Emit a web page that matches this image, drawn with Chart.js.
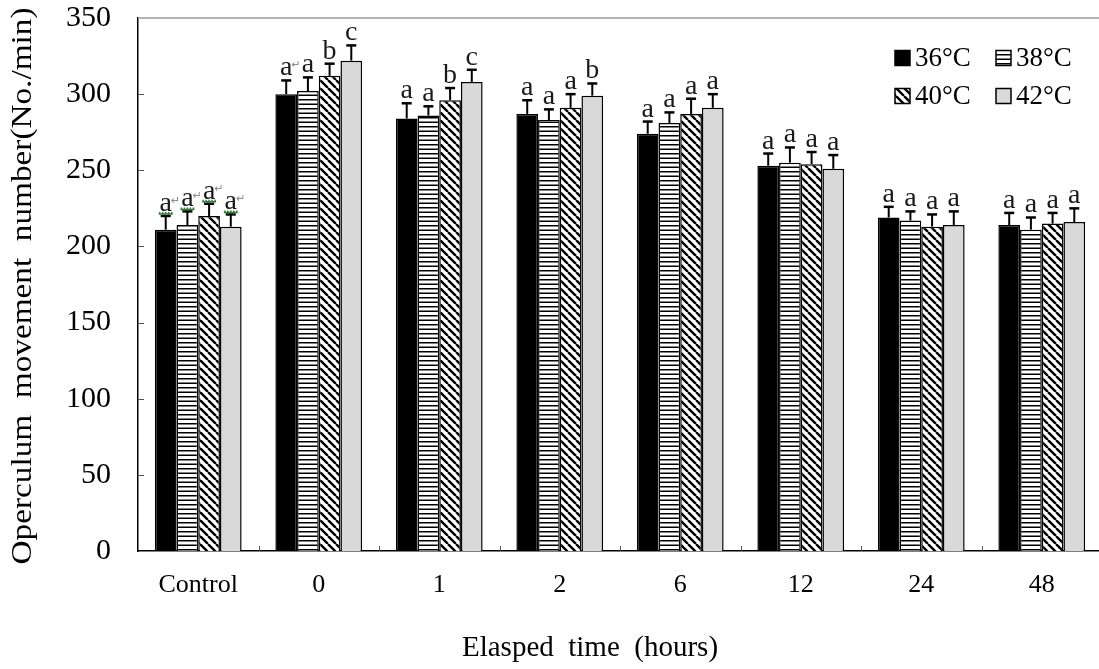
<!DOCTYPE html>
<html>
<head>
<meta charset="utf-8">
<script src="https://cdn.jsdelivr.net/npm/chart.js@4.4.1/dist/chart.umd.min.js"></script>
<style>
  html, body { margin: 0; padding: 0; background: #fff; overflow: hidden; width: 1099px; height: 669px; }
  canvas { display: block; }
</style>
</head>
<body>
<canvas id="chart" width="1103" height="669" style="width:1103px;height:669px"></canvas>
<script>
// groups on the x axis and the four temperature series
const categories = ['Control', '0', '1', '2', '6', '12', '24', '48'];
const seriesLabels = ['36\u00B0C', '38\u00B0C', '40\u00B0C', '42\u00B0C'];

const mean36 = [211, 300, 284, 287, 274, 253, 219, 214];
const mean38 = [214, 302, 286, 283, 281, 255, 217, 211];
const mean40 = [220, 312, 296, 291, 287, 254, 213, 215];
const mean42 = [213, 322, 308, 299, 291, 251, 214, 216];

const err36 = [9, 9, 10, 9, 8, 8, 7, 8];
const err38 = [9, 9, 6, 7, 7, 10, 6, 8];
const err40 = [8, 8, 8, 9, 10, 8, 8, 7];
const err42 = [8, 10, 8, 8, 9, 9, 9, 9];

const letters36 = ['a', 'a', 'a', 'a', 'a', 'a', 'a', 'a'];
const letters38 = ['a', 'a', 'a', 'a', 'a', 'a', 'a', 'a'];
const letters40 = ['a', 'b', 'b', 'a', 'a', 'a', 'a', 'a'];
const letters42 = ['a', 'c', 'c', 'b', 'a', 'a', 'a', 'a'];

const yTicks = [0, 50, 100, 150, 200, 250, 300, 350];

const xTitle = 'Elasped  time  (hours)';
const yTitle = 'Operculum  movement  number(No./min)';

const serif = '"Liberation Serif", "Times New Roman", serif';

// fill patterns
function stripesH() {
    const c = document.createElement('canvas');
    c.width = 8; c.height = 9;
    const g = c.getContext('2d');
    g.fillStyle = '#fff'; g.fillRect(0, 0, 8, 9);
    g.fillStyle = '#000';
    g.fillRect(0, 0, 8, 1.5);
    g.fillRect(0, 4.5, 8, 1.5);
    return g.createPattern(c, 'repeat');
}
function stripesDiag() {
    const s = 8;
    const c = document.createElement('canvas');
    c.width = s; c.height = s;
    const g = c.getContext('2d');
    g.fillStyle = '#fff'; g.fillRect(0, 0, s, s);
    g.strokeStyle = '#000'; g.lineWidth = 2.4;
    g.beginPath();
    [-s, 0, s].forEach(k => { g.moveTo(k, 0); g.lineTo(k + s, s); });
    g.stroke();
    return g.createPattern(c, 'repeat');
}

const fills = ['#000', stripesH(), stripesDiag(), '#d9d9d9'];
const means = [mean36, mean38, mean40, mean42];
const errs = [err36, err38, err40, err42];
const letters = [letters36, letters38, letters40, letters42];

const decor = {
    id: 'decor',
    afterDatasetsDraw(chart) {
        const ctx = chart.ctx;
        const y = chart.scales.y;
        ctx.save();
        chart.data.datasets.forEach((ds, i) => {
            const meta = chart.getDatasetMeta(i);
            meta.data.forEach((bar, j) => {
                const top = y.getPixelForValue(means[i][j] + errs[i][j]);
                // whisker (upper only)
                ctx.strokeStyle = '#000';
                ctx.lineWidth = 2;
                ctx.beginPath();
                ctx.moveTo(bar.x, bar.y);
                ctx.lineTo(bar.x, top);
                ctx.stroke();
                ctx.lineWidth = 2.5;
                ctx.beginPath();
                ctx.moveTo(bar.x - 5, top);
                ctx.lineTo(bar.x + 5, top);
                ctx.stroke();
                // significance letter
                ctx.fillStyle = '#1a1a1a';
                ctx.font = '28px ' + serif;
                ctx.textAlign = 'center';
                ctx.textBaseline = 'alphabetic';
                ctx.fillText(letters[i][j], bar.x, top - 5);
                // leftover editing marks in the original figure
                if (j === 0 || (j === 1 && i === 0)) {
                    ctx.fillStyle = '#8a8a8a';
                    ctx.font = '11px "DejaVu Sans"';
                    ctx.fillText('\u21B5', bar.x + 10, top - 12);
                }
                if (j === 0) {
                    ctx.strokeStyle = '#2e7d32';
                    ctx.lineWidth = 1.5;
                    ctx.beginPath();
                    ctx.moveTo(bar.x - 7, top - 2);
                    ctx.lineTo(bar.x + 7, top - 2);
                    for (let k = -6; k <= 6; k += 3) {
                        ctx.moveTo(bar.x + k, top - 2);
                        ctx.lineTo(bar.x + k, top - 4);
                    }
                    ctx.stroke();
                }
            });
        });
        ctx.restore();
    },
    afterDraw(chart) {
        const ctx = chart.ctx;
        const a = chart.chartArea;
        const x = chart.scales.x;
        const y = chart.scales.y;
        ctx.save();
        // frame top / right
        ctx.strokeStyle = '#9a9a9a';
        ctx.lineWidth = 1.5;
        ctx.beginPath();
        ctx.moveTo(a.left, a.top);
        ctx.lineTo(a.right, a.top);
        ctx.lineTo(a.right, a.bottom);
        ctx.stroke();
        // inside tick marks
        ctx.strokeStyle = '#555';
        ctx.lineWidth = 1;
        ctx.beginPath();
        yTicks.slice(1, -1).forEach(v => {
            const py = Math.round(y.getPixelForValue(v)) + 0.5;
            ctx.moveTo(a.left, py);
            ctx.lineTo(a.left + 6, py);
        });
        for (let i = 0; i < categories.length - 1; i++) {
            const px = Math.round((x.getPixelForValue(i) + x.getPixelForValue(i + 1)) / 2) + 0.5;
            ctx.moveTo(px, a.bottom);
            ctx.lineTo(px, a.bottom - 5);
        }
        ctx.stroke();
        // legend, 2 x 2
        const lx = [a.left + 757, a.left + 858];
        const ly = [a.top + 40, a.top + 78];
        ctx.font = '27px ' + serif;
        ctx.textAlign = 'left';
        ctx.textBaseline = 'middle';
        seriesLabels.forEach((lab, i) => {
            const bx = lx[i % 2], by = ly[Math.floor(i / 2)];
            ctx.fillStyle = fills[i];
            ctx.fillRect(bx, by - 7.5, 15, 15);
            ctx.strokeStyle = '#000';
            ctx.lineWidth = 1.5;
            ctx.strokeRect(bx, by - 7.5, 15, 15);
            ctx.fillStyle = '#000';
            ctx.fillText(lab, bx + 20, by + 1);
        });
        // axis titles
        ctx.fillStyle = '#000';
        ctx.textAlign = 'center';
        ctx.textBaseline = 'middle';
        ctx.font = '29px ' + serif;
        ctx.fillText(xTitle, 590, 648);
        ctx.font = '29px ' + serif;
        const w = ctx.measureText(yTitle).width;
        ctx.translate(23, 286);
        ctx.rotate(-Math.PI / 2);
        ctx.scale(557 / w, 1);
        ctx.fillText(yTitle, 0, 0);
        ctx.restore();
    }
};

new Chart(document.getElementById('chart'), {
    type: 'bar',
    data: {
        labels: categories,
        datasets: seriesLabels.map((lab, i) => ({
            label: lab,
            data: means[i],
            backgroundColor: fills[i],
            borderColor: '#000',
            borderWidth: 1.5,
            categoryPercentage: 0.72,
            barPercentage: 1.0
        }))
    },
    options: {
        responsive: false,
        animation: false,
        devicePixelRatio: 1,
        layout: { padding: { top: 17, right: 1, left: 0, bottom: 0 } },
        plugins: {
            legend: { display: false },
            tooltip: { enabled: false }
        },
        scales: {
            x: {
                offset: true,
                grid: { display: false, drawTicks: true, tickLength: 19 },
                border: { color: '#000', width: 1.5 },
                ticks: { color: '#000', font: { family: serif, size: 26 }, padding: 0 },
                afterFit: s => { s.height = 118; }
            },
            y: {
                min: 0,
                max: 350,
                afterBuildTicks: s => { s.ticks = yTicks.map(v => ({ value: v })); },
                grid: { display: false, drawTicks: true, tickLength: 27 },
                border: { color: '#000', width: 1.5 },
                ticks: { color: '#000', font: { family: serif, size: 30 }, padding: 0 },
                afterFit: s => { s.width = 138; }
            }
        }
    },
    plugins: [decor]
});
</script>
</body>
</html>
